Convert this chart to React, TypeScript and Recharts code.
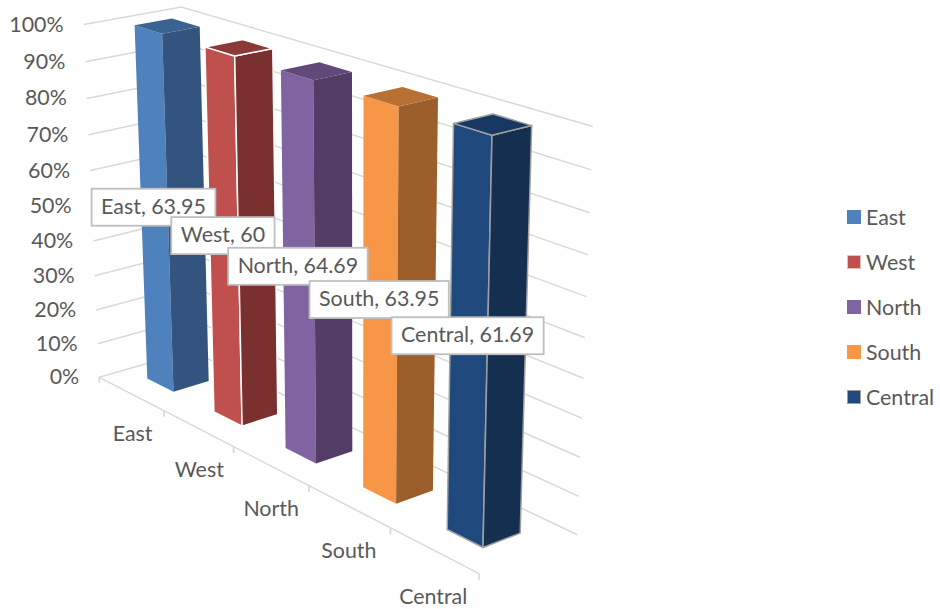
import React from "react";
import { ComposedChart, Bar, XAxis, YAxis, CartesianGrid, Legend, LabelList, usePlotArea } from "recharts";

const categories = ["East", "West", "North", "South", "Central"];
const values = [63.95, 60, 64.69, 63.95, 61.69];
const valueTicks = [0, 0.1, 0.2, 0.3, 0.4, 0.5, 0.6, 0.7, 0.8, 0.9, 1];
const frontFills = ["#4F81BD", "#C0504D", "#8064A2", "#F79646", "#1F497D"];
const sideFills = ["#33547E", "#7A302E", "#533D66", "#9C5F2B", "#152F50"];
const topFills = ["#3B6392", "#8B3A38", "#614979", "#B87033", "#173861"];
const edges = ["none", "#ffffff", "none", "none", "#A0A0A0"];

// one non-zero series per category, stacked to 100%
const rows = categories.map((name, i) => {
  const row: Record<string, string | number> = { name };
  categories.forEach((s, j) => { row[s] = i === j ? values[i] : 0; });
  return row;
});

// perspective camera: (u along categories, w into the depth, v up the value axis) to pixels
const CAM = [
  294.013232, 97.339302, -20.27552, 99.206906,
  93.400208, -16.32193, -354.081095, 377.298522,
  -0.179389, 0.029068, -0.056619,
];
const W0 = 0.31, W1 = 0.69; // depth of the columns inside the floor

function project(u: number, w: number, v: number) {
  const d = CAM[8] * u + CAM[9] * w + CAM[10] * v + 1;
  return [(CAM[0] * u + CAM[1] * w + CAM[2] * v + CAM[3]) / d, (CAM[4] * u + CAM[5] * w + CAM[6] * v + CAM[7]) / d];
}

const poly = (pts: number[][]) => pts.map((p) => p[0].toFixed(1) + "," + p[1].toFixed(1)).join(" ");
const FONT = "Lato";
const FONT_SIZE = 21.4;
const INK = "#595959";
const GRID = "#D9D9D9";

function Box3D(props: any) {
  const { x, y, width, height, fill, sideFill, topFill, edge } = props;
  const plot = usePlotArea();
  if (!plot || !height) return null;
  const u0 = (x - plot.x) / plot.width, u1 = (x + width - plot.x) / plot.width;
  const v1 = 1 - (y - plot.y) / plot.height, v0 = 1 - (y + height - plot.y) / plot.height;
  const sw = edge === "none" ? 0 : 1.5;
  return (
    <g stroke={edge} strokeWidth={sw} strokeLinejoin="round">
      <polygon fill={fill} points={poly([project(u0, W0, v0), project(u1, W0, v0), project(u1, W0, v1), project(u0, W0, v1)])} />
      <polygon fill={sideFill} points={poly([project(u1, W0, v0), project(u1, W1, v0), project(u1, W1, v1), project(u1, W0, v1)])} />
      <polygon fill={topFill} points={poly([project(u0, W0, v1), project(u1, W0, v1), project(u1, W1, v1), project(u0, W1, v1)])} />
    </g>
  );
}

// gridline folded over the side wall and the back wall
function WallLine(props: any) {
  const plot = usePlotArea();
  if (!plot) return null;
  const v = 1 - (props.y1 - plot.y) / plot.height;
  return <polyline fill="none" stroke={GRID} strokeWidth={1.5} points={poly([project(0, 0, v), project(0, 1, v), project(1, 1, v)])} />;
}

function ValueTick(props: any) {
  const plot = usePlotArea();
  if (!plot) return null;
  const v = 1 - (props.y - plot.y) / plot.height;
  const [x, y] = project(0, 0, v);
  return <text x={x - 20} y={y + 1.5} textAnchor="end" dominantBaseline="middle" fontFamily={FONT} fontSize={FONT_SIZE} fill={INK}>{Math.round(props.payload.value * 100)}%</text>;
}

function CategoryTick(props: any) {
  const plot = usePlotArea();
  if (!plot) return null;
  const u = (props.x - plot.x) / plot.width;
  const half = 0.5 / categories.length;
  const [lx, ly] = project(u, 0, -0.126);
  const mark = (a: number) => [project(a, 0, 0), project(a, 0, -0.017)];
  return (
    <g>
      <polyline fill="none" stroke={GRID} strokeWidth={1.5} points={poly([project(u - half, 0, 0), project(u + half, 0, 0)])} />
      <polyline fill="none" stroke={GRID} strokeWidth={1.5} points={poly(mark(u - half))} />
      <polyline fill="none" stroke={GRID} strokeWidth={1.5} points={poly(mark(u + half))} />
      <text x={lx} y={ly} textAnchor="middle" dominantBaseline="middle" fontFamily={FONT} fontSize={FONT_SIZE} fill={INK}>{props.payload.value}</text>
    </g>
  );
}

const measure = document.createElement("canvas").getContext("2d");

function DataTag(props: any) {
  const { x, y, width, height, index, value } = props;
  const plot = usePlotArea();
  if (!plot || !value) return null;
  const text = categories[index] + ", " + value;
  const [cx, cy0] = project((x + width / 2 - plot.x) / plot.width, 0.3, 1 - (y + height / 2 - plot.y) / plot.height);
  const cy = cy0 - 5.5;
  if (measure) measure.font = FONT_SIZE + "px " + FONT;
  const tw = (measure ? measure.measureText(text).width : 100) + 19;
  return (
    <g>
      <rect x={cx - tw / 2} y={cy - 18.5} width={tw} height={37} fill="#fff" stroke="#BFBFBF" strokeWidth={1.8} />
      <text x={cx} y={cy + 1} textAnchor="middle" dominantBaseline="middle" fontFamily={FONT} fontSize={FONT_SIZE} fill={INK}>{text}</text>
    </g>
  );
}

function SeriesKey({ payload }: any) {
  return (
    <div style={{ fontFamily: FONT, fontSize: FONT_SIZE, color: INK }}>
      {(payload || []).map((item: any, i: number) => (
        <div key={item.value} style={{ height: 45, display: "flex", alignItems: "center" }}>
          <span style={{ width: 14, height: 14, boxSizing: "border-box", background: item.color, border: edges[i] === "none" ? "none" : "1px solid " + (i === 1 ? "#E8BDBC" : "#A0A0A0"), marginRight: 5 }} />
          {item.value}
        </div>
      ))}
    </div>
  );
}

export default function App() {
  return (
    <div style={{ position: "absolute", left: 0, top: 0 }}>
      <ComposedChart width={940} height={609} data={rows} stackOffset="expand" barCategoryGap="30%" margin={{ top: 0, right: 0, bottom: 0, left: 0 }}>
        <CartesianGrid vertical={false} horizontal={<WallLine />} />
        <XAxis dataKey="name" height={1} axisLine={false} tickLine={false} interval={0} tick={<CategoryTick />} />
        <YAxis type="number" width={1} domain={[0, 1]} ticks={valueTicks} axisLine={false} tickLine={false} interval={0} tick={<ValueTick />} />
        {categories.map((s, i) => (
          <Bar key={s} dataKey={s} stackId="a" fill={frontFills[i]} isAnimationActive={false}
            shape={<Box3D sideFill={sideFills[i]} topFill={topFills[i]} edge={edges[i]} />}>
            <LabelList dataKey={s} content={<DataTag />} />
          </Bar>
        ))}
        <Legend layout="vertical" align="right" verticalAlign="middle" itemSorter={null} content={<SeriesKey />} wrapperStyle={{ position: "absolute", left: 847, top: 194, right: "auto", width: 93 }} />
      </ComposedChart>
    </div>
  );
}
